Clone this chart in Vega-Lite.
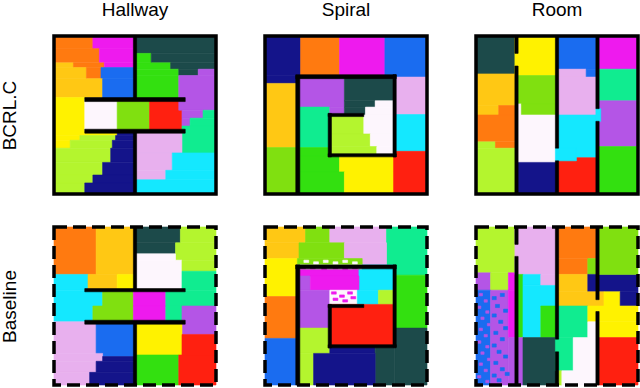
{"$schema":"https://vega.github.io/schema/vega-lite/v6.json","background":"white","padding":{"left":0,"top":1,"right":0,"bottom":0},"columns":3,"spacing":{"row":33,"column":49},"bounds":"flush","align":"each","config":{"legend":{"disable":true},"view":{"stroke":null},"title":{"font":"Liberation Sans","fontSize":19,"fontWeight":"normal","offset":14},"axis":{"titleFont":"Liberation Sans","titleFontSize":19,"titleFontWeight":"normal"}},
"datasets":{
"f":[{"a":0,"b":100,"t":0,"u":100}],
"h1":[
{"a":0,"b":24,"t":0,"u":8,"c":"o"},{"a":24,"b":50,"t":0,"u":8,"c":"m"},{"a":0,"b":28,"t":8,"u":17,"c":"o"},{"a":28,"b":50,"t":8,"u":17,"c":"m"},{"a":0,"b":12,"t":17,"u":20,"c":"a"},{"a":12,"b":31,"t":17,"u":20,"c":"o"},{"a":31,"b":50,"t":17,"u":20,"c":"m"},{"a":0,"b":20,"t":20,"u":27,"c":"a"},{"a":20,"b":29,"t":20,"u":27,"c":"o"},{"a":29,"b":50,"t":20,"u":27,"c":"b"},{"a":0,"b":30,"t":27,"u":39,"c":"a"},{"a":30,"b":50,"t":27,"u":40,"c":"b"},
{"a":0,"b":19,"t":39,"u":63,"c":"y"},{"a":19,"b":39,"t":40,"u":60,"c":"w"},{"a":39,"b":59,"t":40,"u":60,"c":"l"},{"a":59,"b":79,"t":40,"u":60,"c":"r"},
{"a":50,"b":100,"t":0,"u":11,"c":"t"},{"a":50,"b":60,"t":11,"u":17,"c":"g"},{"a":60,"b":100,"t":11,"u":17,"c":"t"},{"a":50,"b":72,"t":17,"u":21,"c":"g"},{"a":72,"b":100,"t":17,"u":21,"c":"t"},{"a":50,"b":77,"t":21,"u":25,"c":"g"},{"a":77,"b":89,"t":21,"u":25,"c":"t"},{"a":89,"b":100,"t":21,"u":25,"c":"v"},{"a":50,"b":77,"t":25,"u":40,"c":"g"},{"a":77,"b":100,"t":25,"u":47,"c":"v"},
{"a":79,"b":92,"t":47,"u":52,"c":"v"},{"a":92,"b":100,"t":47,"u":52,"c":"s"},{"a":79,"b":84,"t":52,"u":57,"c":"v"},{"a":84,"b":100,"t":52,"u":57,"c":"s"},{"a":79,"b":100,"t":57,"u":74,"c":"s"},
{"a":50,"b":79,"t":60,"u":74,"c":"p"},{"a":50,"b":73,"t":74,"u":85,"c":"p"},{"a":73,"b":100,"t":74,"u":85,"c":"u"},{"a":50,"b":69,"t":85,"u":91,"c":"p"},{"a":69,"b":100,"t":85,"u":91,"c":"u"},{"a":50,"b":100,"t":91,"u":100,"c":"u"},
{"a":19,"b":39,"t":60,"u":63,"c":"y"},{"a":39,"b":50,"t":60,"u":63,"c":"n"},{"a":0,"b":16,"t":63,"u":66,"c":"y"},{"a":16,"b":38,"t":63,"u":66,"c":"c"},{"a":38,"b":50,"t":63,"u":66,"c":"n"},{"a":0,"b":10,"t":66,"u":71,"c":"y"},{"a":10,"b":36,"t":66,"u":71,"c":"c"},{"a":36,"b":50,"t":66,"u":71,"c":"n"},{"a":0,"b":35,"t":71,"u":80,"c":"c"},{"a":35,"b":50,"t":71,"u":80,"c":"n"},{"a":0,"b":30,"t":80,"u":88,"c":"c"},{"a":30,"b":50,"t":80,"u":88,"c":"n"},{"a":0,"b":24,"t":88,"u":93,"c":"c"},{"a":24,"b":50,"t":88,"u":93,"c":"n"},{"a":0,"b":19,"t":93,"u":100,"c":"c"},{"a":19,"b":50,"t":93,"u":100,"c":"n"},
{"a":49,"b":51,"t":0,"u":40,"c":"k"},{"a":49,"b":51,"t":60,"u":100,"c":"k"},{"a":19,"b":81,"t":39,"u":41.5,"c":"k"},{"a":19,"b":81,"t":59,"u":61.5,"c":"k"}],
"s1":[
{"a":0,"b":22,"t":0,"u":25,"c":"n"},{"a":22,"b":46,"t":0,"u":25,"c":"o"},{"a":46,"b":74,"t":0,"u":25,"c":"m"},{"a":74,"b":100,"t":0,"u":26,"c":"b"},
{"a":0,"b":20,"t":25,"u":30,"c":"n"},{"a":0,"b":20,"t":30,"u":70.6,"c":"a"},{"a":0,"b":20,"t":70.6,"u":100,"c":"l"},
{"a":80,"b":100,"t":26,"u":49.7,"c":"p"},{"a":80,"b":100,"t":49.7,"u":73,"c":"u"},{"a":79,"b":100,"t":73,"u":100,"c":"r"},
{"a":20,"b":49,"t":25,"u":45,"c":"v"},{"a":49,"b":80,"t":25,"u":41,"c":"t"},{"a":49,"b":68,"t":41,"u":45,"c":"t"},{"a":68,"b":80,"t":41,"u":45,"c":"w"},
{"a":20,"b":40,"t":45,"u":70.6,"c":"s"},{"a":40,"b":49,"t":45,"u":50,"c":"v"},{"a":49,"b":62,"t":45,"u":50,"c":"t"},{"a":62,"b":80,"t":45,"u":50,"c":"w"},
{"a":40,"b":61,"t":50,"u":62,"c":"c"},{"a":61,"b":80,"t":50,"u":62,"c":"w"},{"a":40,"b":65,"t":62,"u":70,"c":"c"},{"a":65,"b":80,"t":62,"u":70,"c":"w"},{"a":40,"b":69,"t":70,"u":76,"c":"c"},{"a":69,"b":80,"t":70,"u":76,"c":"w"},
{"a":20,"b":40,"t":70.6,"u":76,"c":"g"},{"a":20,"b":46,"t":76,"u":86,"c":"g"},{"a":46,"b":79,"t":76,"u":86,"c":"y"},{"a":20,"b":49,"t":86,"u":100,"c":"g"},{"a":49,"b":79,"t":86,"u":100,"c":"y"},
{"a":19,"b":21.5,"t":25,"u":100,"c":"k"},{"a":19,"b":81,"t":24.5,"u":27,"c":"k"},{"a":79,"b":81,"t":24.5,"u":76.5,"c":"k"},{"a":39,"b":81,"t":74.5,"u":76.5,"c":"k"},{"a":39,"b":41,"t":49,"u":76.5,"c":"k"},{"a":39,"b":61,"t":49,"u":51,"c":"k"}],
"r1":[
{"a":0,"b":25,"t":0,"u":24,"c":"t"},{"a":0,"b":25,"t":24,"u":44,"c":"a"},{"a":0,"b":14,"t":44,"u":50,"c":"a"},{"a":14,"b":25,"t":44,"u":50,"c":"o"},{"a":0,"b":25,"t":50,"u":67,"c":"o"},{"a":0,"b":12,"t":67,"u":71,"c":"c"},{"a":12,"b":25,"t":67,"u":71,"c":"o"},{"a":0,"b":25,"t":71,"u":100,"c":"c"},
{"a":24,"b":50,"t":0,"u":25,"c":"y"},{"a":25,"b":50,"t":25,"u":43,"c":"l"},{"a":25,"b":28,"t":43,"u":50,"c":"w"},{"a":28,"b":50,"t":43,"u":50,"c":"l"},{"a":25,"b":50,"t":50,"u":80,"c":"w"},{"a":25,"b":50,"t":80,"u":100,"c":"n"},
{"a":50,"b":75,"t":0,"u":21,"c":"b"},{"a":50,"b":68,"t":21,"u":26,"c":"p"},{"a":68,"b":75,"t":21,"u":26,"c":"b"},{"a":50,"b":75,"t":26,"u":50,"c":"p"},{"a":50,"b":75,"t":50,"u":77,"c":"u"},{"a":50,"b":75,"t":77,"u":100,"c":"r"},{"a":49,"b":62,"t":71,"u":79,"c":"u"},
{"a":75,"b":100,"t":0,"u":21,"c":"m"},{"a":75,"b":100,"t":21,"u":41,"c":"s"},{"a":75,"b":100,"t":41,"u":70,"c":"v"},{"a":75,"b":100,"t":70,"u":100,"c":"g"},{"a":74,"b":77,"t":46,"u":54,"c":"u"},
{"a":24,"b":26,"t":0,"u":11,"c":"k"},{"a":24,"b":26,"t":19,"u":100,"c":"k"},{"a":49,"b":51,"t":0,"u":71,"c":"k"},{"a":49,"b":51,"t":79,"u":100,"c":"k"},{"a":74,"b":76,"t":0,"u":46,"c":"k"},{"a":74,"b":76,"t":54,"u":100,"c":"k"}],
"h2":[
{"a":0,"b":26,"t":0,"u":30,"c":"o"},{"a":26,"b":50,"t":0,"u":30,"c":"a"},{"a":0,"b":21,"t":30,"u":40,"c":"u"},{"a":21,"b":39,"t":30,"u":40,"c":"a"},{"a":39,"b":50,"t":30,"u":40,"c":"y"},
{"a":0,"b":30,"t":40,"u":50,"c":"u"},{"a":30,"b":49,"t":40,"u":50,"c":"l"},{"a":49,"b":69,"t":40,"u":50,"c":"m"},{"a":69,"b":100,"t":40,"u":50,"c":"s"},
{"a":0,"b":24,"t":50,"u":60,"c":"u"},{"a":24,"b":49,"t":50,"u":60,"c":"l"},{"a":49,"b":69,"t":50,"u":60,"c":"m"},{"a":69,"b":79,"t":50,"u":60,"c":"s"},{"a":79,"b":100,"t":50,"u":68,"c":"v"},
{"a":0,"b":26,"t":60,"u":80,"c":"p"},{"a":26,"b":50,"t":60,"u":82,"c":"b"},{"a":0,"b":30,"t":80,"u":85,"c":"p"},{"a":30,"b":50,"t":82,"u":85,"c":"n"},{"a":0,"b":26,"t":85,"u":92,"c":"p"},{"a":26,"b":50,"t":85,"u":92,"c":"n"},{"a":0,"b":22,"t":92,"u":100,"c":"p"},{"a":22,"b":50,"t":92,"u":100,"c":"n"},
{"a":50,"b":78,"t":0,"u":10,"c":"t"},{"a":78,"b":100,"t":0,"u":10,"c":"c"},{"a":50,"b":75,"t":10,"u":17,"c":"t"},{"a":75,"b":100,"t":10,"u":21,"c":"c"},{"a":50,"b":75,"t":17,"u":21,"c":"w"},{"a":50,"b":79,"t":21,"u":40,"c":"w"},{"a":79,"b":100,"t":21,"u":28,"c":"c"},{"a":79,"b":100,"t":28,"u":40,"c":"s"},
{"a":50,"b":79,"t":60,"u":81,"c":"y"},{"a":79,"b":100,"t":68,"u":81,"c":"r"},{"a":50,"b":77,"t":81,"u":100,"c":"g"},{"a":77,"b":100,"t":81,"u":100,"c":"r"},
{"a":49,"b":51,"t":0,"u":40,"c":"k"},{"a":49,"b":51,"t":60,"u":100,"c":"k"},{"a":19,"b":81,"t":39,"u":41,"c":"k"},{"a":19,"b":81,"t":59,"u":61.5,"c":"k"}],
"s2":[
{"a":0,"b":25,"t":0,"u":10,"c":"a"},{"a":25,"b":40,"t":0,"u":10,"c":"l"},{"a":40,"b":75,"t":0,"u":10,"c":"p"},{"a":75,"b":100,"t":0,"u":30.5,"c":"s"},
{"a":0,"b":21,"t":10,"u":20,"c":"a"},{"a":21,"b":49,"t":10,"u":20,"c":"l"},{"a":49,"b":75,"t":10,"u":24,"c":"p"},
{"a":0,"b":20,"t":20,"u":44,"c":"y"},{"a":20,"b":60,"t":20,"u":24,"c":"l"},{"a":0,"b":20,"t":44,"u":70.5,"c":"o"},{"a":0,"b":20,"t":70.5,"u":100,"c":"b"},
{"a":80,"b":100,"t":30.5,"u":64,"c":"g"},{"a":80,"b":100,"t":64,"u":100,"c":"t"},
{"a":20,"b":60,"t":24,"u":27,"c":"w"},{"a":60,"b":80,"t":24,"u":27,"c":"u"},{"a":20,"b":58,"t":27,"u":31,"c":"m"},{"a":58,"b":80,"t":27,"u":40,"c":"u"},{"a":20,"b":28,"t":31,"u":40,"c":"v"},{"a":28,"b":58,"t":31,"u":40,"c":"m"},
{"a":20,"b":40,"t":40,"u":64,"c":"v"},{"a":40,"b":57,"t":40,"u":49,"c":"w"},{"a":57,"b":70,"t":40,"u":49,"c":"u"},{"a":70,"b":80,"t":40,"u":49,"c":"c"},{"a":40,"b":80,"t":49,"u":75,"c":"r"},{"a":20,"b":40,"t":64,"u":80,"c":"c"},
{"a":40,"b":68,"t":75,"u":80,"c":"n"},{"a":68,"b":80,"t":75,"u":100,"c":"t"},{"a":20,"b":30,"t":80,"u":100,"c":"c"},{"a":30,"b":68,"t":80,"u":100,"c":"n"},
{"a":24,"b":27,"t":21,"u":22.5,"c":"w"},{"a":30,"b":33,"t":22,"u":23.5,"c":"w"},{"a":36,"b":39,"t":21,"u":22.5,"c":"w"},{"a":42,"b":45,"t":22,"u":23.5,"c":"w"},{"a":48,"b":51,"t":21,"u":22.5,"c":"w"},{"a":54,"b":57,"t":22,"u":23.5,"c":"w"},
{"a":22,"b":25,"t":25,"u":26.5,"c":"m"},{"a":28,"b":31,"t":25,"u":26.5,"c":"m"},{"a":35,"b":38,"t":25.5,"u":27,"c":"m"},{"a":42,"b":45,"t":25,"u":26.5,"c":"m"},{"a":48,"b":51,"t":25.5,"u":27,"c":"m"},{"a":54,"b":57,"t":25,"u":26.5,"c":"m"},
{"a":41,"b":44,"t":41,"u":42.5,"c":"m"},{"a":46,"b":49,"t":43,"u":44.5,"c":"m"},{"a":51,"b":54,"t":41,"u":42.5,"c":"m"},{"a":53,"b":56,"t":44,"u":45.5,"c":"m"},{"a":42,"b":45,"t":45,"u":46.5,"c":"m"},{"a":48,"b":51,"t":46,"u":47.5,"c":"m"},
{"a":19,"b":21.5,"t":24,"u":100,"c":"k"},{"a":19,"b":81,"t":24,"u":26.5,"c":"k"},{"a":79,"b":81,"t":24,"u":76,"c":"k"},{"a":39,"b":81,"t":74.5,"u":76.5,"c":"k"},{"a":39,"b":41,"t":49,"u":76.5,"c":"k"},{"a":39,"b":61,"t":49,"u":51,"c":"k"}],
"r2":[
{"a":0,"b":25,"t":0,"u":29,"c":"c"},{"a":0,"b":9,"t":29,"u":40,"c":"v"},{"a":9,"b":20,"t":29,"u":40,"c":"c"},{"a":20,"b":25,"t":29,"u":40,"c":"m"},
{"a":0,"b":9,"t":40,"u":100,"c":"b"},{"a":9,"b":20,"t":40,"u":100,"c":"v"},{"a":20,"b":25,"t":40,"u":70,"c":"m"},{"a":20,"b":25,"t":70,"u":100,"c":"v"},
{"a":2,"b":4,"t":42,"u":43.6,"c":"v"},{"a":5,"b":7,"t":46,"u":47.6,"c":"v"},{"a":1,"b":3,"t":50,"u":51.6,"c":"v"},{"a":6,"b":8,"t":53,"u":54.6,"c":"v"},{"a":3,"b":5,"t":57,"u":58.6,"c":"v"},{"a":7,"b":9,"t":61,"u":62.6,"c":"v"},{"a":2,"b":4,"t":64,"u":65.6,"c":"v"},{"a":5,"b":7,"t":68,"u":69.6,"c":"v"},{"a":1,"b":3,"t":72,"u":73.6,"c":"v"},{"a":6,"b":8,"t":75,"u":76.6,"c":"v"},{"a":3,"b":5,"t":79,"u":80.6,"c":"v"},{"a":7,"b":9,"t":83,"u":84.6,"c":"v"},{"a":2,"b":4,"t":86,"u":87.6,"c":"v"},{"a":5,"b":7,"t":90,"u":91.6,"c":"v"},{"a":1,"b":3,"t":94,"u":95.6,"c":"v"},{"a":6,"b":8,"t":97,"u":98.6,"c":"v"},
{"a":10,"b":12.5,"t":44,"u":46,"c":"b"},{"a":15,"b":17.5,"t":42,"u":44,"c":"b"},{"a":12,"b":14.5,"t":49,"u":51,"c":"b"},{"a":17,"b":19.5,"t":52,"u":54,"c":"b"},{"a":10,"b":12.5,"t":55,"u":57,"c":"b"},{"a":14,"b":16.5,"t":59,"u":61,"c":"b"},{"a":17,"b":19.5,"t":63,"u":65,"c":"b"},{"a":11,"b":13.5,"t":66,"u":68,"c":"b"},{"a":15,"b":17.5,"t":70,"u":72,"c":"b"},{"a":10,"b":12.5,"t":74,"u":76,"c":"b"},{"a":13,"b":15.5,"t":78,"u":80,"c":"b"},{"a":17,"b":19.5,"t":81,"u":83,"c":"b"},{"a":11,"b":13.5,"t":85,"u":87,"c":"b"},{"a":15,"b":17.5,"t":89,"u":91,"c":"b"},{"a":10,"b":12.5,"t":93,"u":95,"c":"b"},{"a":13,"b":15.5,"t":96,"u":98,"c":"b"},{"a":18,"b":20.5,"t":92,"u":94,"c":"b"},
{"a":24,"b":50,"t":0,"u":30,"c":"p"},{"a":25,"b":29,"t":30,"u":70,"c":"g"},{"a":29,"b":40,"t":30,"u":37,"c":"u"},{"a":40,"b":50,"t":30,"u":37,"c":"p"},{"a":29,"b":50,"t":37,"u":50,"c":"u"},{"a":29,"b":40,"t":50,"u":70,"c":"u"},{"a":40,"b":50,"t":50,"u":70,"c":"g"},{"a":25,"b":29,"t":70,"u":100,"c":"v"},{"a":29,"b":50,"t":70,"u":100,"c":"t"},
{"a":50,"b":75,"t":0,"u":20,"c":"o"},{"a":50,"b":69,"t":20,"u":30,"c":"o"},{"a":69,"b":75,"t":20,"u":30,"c":"l"},{"a":50,"b":69,"t":30,"u":41,"c":"a"},{"a":69,"b":100,"t":30,"u":41,"c":"n"},{"a":50,"b":79,"t":41,"u":50,"c":"a"},{"a":79,"b":89,"t":41,"u":50,"c":"y"},{"a":89,"b":100,"t":41,"u":50,"c":"n"},
{"a":50,"b":69,"t":50,"u":70,"c":"s"},{"a":69,"b":100,"t":50,"u":60,"c":"y"},{"a":69,"b":75,"t":60,"u":70,"c":"w"},{"a":75,"b":100,"t":60,"u":70,"c":"y"},
{"a":49,"b":60,"t":70,"u":91,"c":"s"},{"a":60,"b":75,"t":70,"u":91,"c":"w"},{"a":50,"b":53,"t":91,"u":100,"c":"c"},{"a":53,"b":75,"t":91,"u":100,"c":"w"},
{"a":75,"b":100,"t":0,"u":30,"c":"l"},{"a":75,"b":100,"t":70,"u":100,"c":"r"},
{"a":24,"b":26,"t":0,"u":11,"c":"k"},{"a":24,"b":26,"t":18.6,"u":100,"c":"k"},{"a":49,"b":51,"t":0,"u":71,"c":"k"},{"a":49,"b":51,"t":79,"u":100,"c":"k"},{"a":74,"b":76,"t":0,"u":46,"c":"k"},{"a":74,"b":76,"t":53.5,"u":100,"c":"k"}]
},
"concat":[
{"title":"Hallway","width":162,"height":158,"encoding":{"x":{"field":"a","type":"quantitative","scale":{"domain":[0,100]},"axis":null},"x2":{"field":"b"},"y":{"field":"t","type":"quantitative","scale":{"domain":[0,100],"reverse":true},"title":"BCRL.C","axis":{"domain":false,"ticks":false,"labels":false,"grid":false,"titlePadding":35}},"y2":{"field":"u"}},"layer":[{"data":{"name":"h1"},"mark":{"type":"rect","strokeWidth":0.6},"encoding":{"color":{"field":"c","type":"nominal","scale":{"domain":["o","m","t","a","b","g","v","y","w","l","r","s","c","p","n","u","k"],"range":["#ff7a10","#ee1aee","#1c4a4a","#ffc814","#1a6cf0","#33e010","#b455e6","#fff200","#fdf6fd","#80e010","#ff2010","#10ec90","#b4f52e","#e8b0ee","#14148a","#14e8ff","#000000"]}},"stroke":{"field":"c","type":"nominal","scale":{"domain":["o","m","t","a","b","g","v","y","w","l","r","s","c","p","n","u","k"],"range":["#ff7a10","#ee1aee","#1c4a4a","#ffc814","#1a6cf0","#33e010","#b455e6","#fff200","#fdf6fd","#80e010","#ff2010","#10ec90","#b4f52e","#e8b0ee","#14148a","#14e8ff","#000000"]}}}},{"data":{"name":"f"},"mark":{"type":"rect","fill":"transparent","stroke":"black","strokeWidth":3.5}}]},
{"title":"Spiral","width":162,"height":158,"encoding":{"x":{"field":"a","type":"quantitative","scale":{"domain":[0,100]},"axis":null},"x2":{"field":"b"},"y":{"field":"t","type":"quantitative","scale":{"domain":[0,100],"reverse":true},"axis":null},"y2":{"field":"u"}},"layer":[{"data":{"name":"s1"},"mark":{"type":"rect","strokeWidth":0.6},"encoding":{"color":{"field":"c","type":"nominal"},"stroke":{"field":"c","type":"nominal"}}},{"data":{"name":"f"},"mark":{"type":"rect","fill":"transparent","stroke":"black","strokeWidth":3.5}}]},
{"title":"Room","width":162,"height":158,"encoding":{"x":{"field":"a","type":"quantitative","scale":{"domain":[0,100]},"axis":null},"x2":{"field":"b"},"y":{"field":"t","type":"quantitative","scale":{"domain":[0,100],"reverse":true},"axis":null},"y2":{"field":"u"}},"layer":[{"data":{"name":"r1"},"mark":{"type":"rect","strokeWidth":0.6},"encoding":{"color":{"field":"c","type":"nominal"},"stroke":{"field":"c","type":"nominal"}}},{"data":{"name":"f"},"mark":{"type":"rect","fill":"transparent","stroke":"black","strokeWidth":3.5}}]},
{"width":162,"height":158,"encoding":{"x":{"field":"a","type":"quantitative","scale":{"domain":[0,100]},"axis":null},"x2":{"field":"b"},"y":{"field":"t","type":"quantitative","scale":{"domain":[0,100],"reverse":true},"title":"Baseline","axis":{"domain":false,"ticks":false,"labels":false,"grid":false,"titlePadding":35}},"y2":{"field":"u"}},"layer":[{"data":{"name":"h2"},"mark":{"type":"rect","strokeWidth":0.6},"encoding":{"color":{"field":"c","type":"nominal"},"stroke":{"field":"c","type":"nominal"}}},{"data":{"name":"f"},"mark":{"type":"rect","fill":"transparent","stroke":"black","strokeWidth":3.5,"strokeDash":[13,6]}}]},
{"width":162,"height":158,"encoding":{"x":{"field":"a","type":"quantitative","scale":{"domain":[0,100]},"axis":null},"x2":{"field":"b"},"y":{"field":"t","type":"quantitative","scale":{"domain":[0,100],"reverse":true},"axis":null},"y2":{"field":"u"}},"layer":[{"data":{"name":"s2"},"mark":{"type":"rect","strokeWidth":0.6},"encoding":{"color":{"field":"c","type":"nominal"},"stroke":{"field":"c","type":"nominal"}}},{"data":{"name":"f"},"mark":{"type":"rect","fill":"transparent","stroke":"black","strokeWidth":3.5,"strokeDash":[13,6]}}]},
{"width":162,"height":158,"encoding":{"x":{"field":"a","type":"quantitative","scale":{"domain":[0,100]},"axis":null},"x2":{"field":"b"},"y":{"field":"t","type":"quantitative","scale":{"domain":[0,100],"reverse":true},"axis":null},"y2":{"field":"u"}},"layer":[{"data":{"name":"r2"},"mark":{"type":"rect","strokeWidth":0.6},"encoding":{"color":{"field":"c","type":"nominal"},"stroke":{"field":"c","type":"nominal"}}},{"data":{"name":"f"},"mark":{"type":"rect","fill":"transparent","stroke":"black","strokeWidth":3.5,"strokeDash":[13,6]}}]}
]}
